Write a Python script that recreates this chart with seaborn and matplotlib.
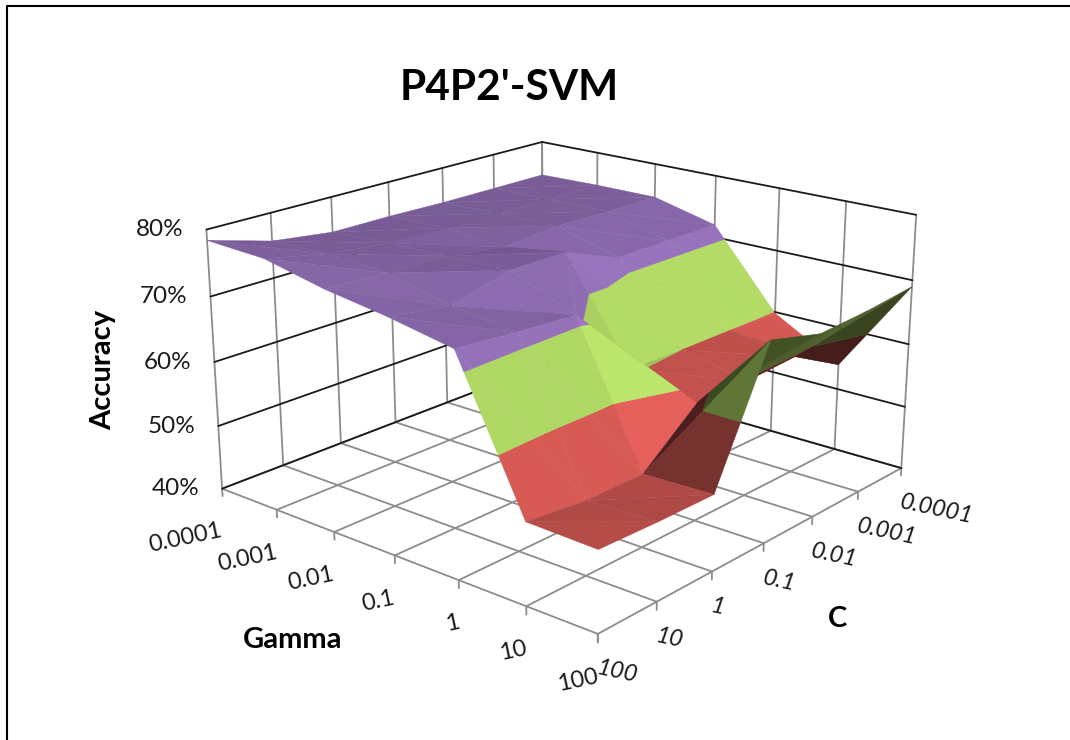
import numpy as np
import matplotlib
matplotlib.use("Agg")
import matplotlib.pyplot as plt
import seaborn as sns
from mpl_toolkits.mplot3d import proj3d
from mpl_toolkits.mplot3d.art3d import Poly3DCollection

sns.set_theme(style="white")
plt.rcParams['font.family'] = ['Lato', 'DejaVu Sans']

gamma_labels = ['0.0001', '0.001', '0.01', '0.1', '1', '10', '100']
c_labels = ['100', '10', '1', '0.1', '0.01', '0.001', '0.0001']
z_ticks = [40, 50, 60, 70, 80]

# accuracy in %, one list per gamma, C running 100 -> 0.0001
acc_g0 = [78.4, 75.7, 74.5, 74.5, 74.3, 74.3, 74.3]
acc_g1 = [78.0, 76.0, 75.0, 74.8, 74.6, 74.5, 74.5]
acc_g2 = [76.0, 75.5, 75.3, 74.0, 74.7, 74.5, 74.5]
acc_g3 = [74.6, 73.2, 75.5, 75.5, 72.0, 72.0, 72.0]
acc_g4 = [72.8, 72.0, 71.4, 60.2, 60.0, 60.0, 59.8]
acc_g5 = [52.0, 51.0, 51.0, 58.0, 58.0, 58.5, 54.0]
acc_g6 = [51.7, 51.4, 51.3, 70.0, 67.8, 68.2, 69.0]
accuracy = np.array([acc_g0, acc_g1, acc_g2, acc_g3, acc_g4, acc_g5, acc_g6])

band_edges = [(40, 50), (50, 60), (60, 70), (70, 80)]
band_colors = sns.color_palette(['#4f81bd', '#d75a55', '#afd764', '#9471b9'])

ELEV, AZIM, ZASPECT = 19.0, -49.5, 0.55
# cells whose crease runs the other way
flipped_cells = [(3, 2)]


def clip_band(tri, lo, hi):
    # cut one triangle down to the part between two z levels
    poly = list(tri)
    for level, sign in ((lo, 1), (hi, -1)):
        out = []
        for a, b in zip(poly, poly[1:] + poly[:1]):
            da, db = sign * (a[2] - level), sign * (b[2] - level)
            if da >= 0:
                out.append(a)
            if da * db < 0:
                out.append(a + (b - a) * da / (da - db))
        poly = out
        if not poly:
            break
    return poly


def shade(tri, color):
    p = tri * np.array([1 / 6, 1 / 6, ZASPECT / 40])
    n = np.cross(p[1] - p[0], p[2] - p[0])
    n = n / np.linalg.norm(n)
    if n[2] < 0:
        n = -n
    f = 0.37 + 0.46 * n[0] + 0.075 * n[1] + 0.46 * n[2]
    f += 0.5 * max(0, -n[1]) * max(0, n[0])
    return tuple(np.clip(np.array(color) * f, 0, 1))


polys, colors = [], []
for i in range(6):
    for j in range(6):
        pts = [np.array([i + a, j + b, accuracy[i + a, j + b]], dtype=float)
               for a, b in ((0, 0), (1, 0), (1, 1), (0, 1))]
        if (i, j) in flipped_cells:
            tris = ([pts[0], pts[1], pts[3]], [pts[1], pts[2], pts[3]])
        else:
            tris = ([pts[0], pts[1], pts[2]], [pts[0], pts[2], pts[3]])
        for tri in tris:
            for (lo, hi), col in zip(band_edges, band_colors):
                part = clip_band(tri, lo, hi)
                if len(part) >= 3:
                    polys.append(part)
                    colors.append(shade(np.array(tri), col))

fig = plt.figure(figsize=(10.7, 7.4), dpi=100)
S = 740
CX, CY = 556, 363
ax = fig.add_axes([(CX - S / 2) / 1070, 1 - (CY + S / 2) / 740, S / 1070, S / 740],
                  projection='3d')
ax.computed_zorder = False
ax.set_proj_type('persp', focal_length=0.5)
ax.view_init(elev=ELEV, azim=AZIM)
ax.set_box_aspect((1, 1, ZASPECT), zoom=0.98)
ax.set_xlim(0, 6)
ax.set_ylim(0, 6)
ax.set_zlim(40, 80)
ax.set_axis_off()

grid = '#8c8c8c'
dark = '#1a1a1a'
for k in range(7):
    ax.plot([k, k], [0, 6], [40, 40], color=grid, lw=1.3, zorder=1)
    ax.plot([0, 6], [k, k], [40, 40], color=grid, lw=1.3, zorder=1)
    ax.plot([k, k], [6, 6], [40, 80], color=grid, lw=1.3, zorder=1)
    ax.plot([0, 0], [k, k], [40, 80], color=grid, lw=1.3, zorder=1)
    ax.plot([k, k], [0, 0], [38.8, 40], color=grid, lw=1.3, zorder=1)
    ax.plot([6, 6], [k, k], [38.8, 40], color=grid, lw=1.3, zorder=1)
for z in z_ticks:
    ax.plot([0, 6], [6, 6], [z, z], color=dark, lw=1.3, zorder=1)
    ax.plot([0, 0], [0, 6], [z, z], color=dark, lw=1.3, zorder=1)

ax.add_collection3d(Poly3DCollection(polys, facecolors=colors, edgecolors=colors,
                                     linewidths=0.3, zsort='average', zorder=2))


def label_at(x, y, z, dx, dy, text, **kw):
    xs, ys, _ = proj3d.proj_transform(x, y, z, ax.get_proj())
    ax.annotate(text, (xs, ys), xytext=(dx, dy), textcoords='offset pixels',
                annotation_clip=False, color='#1a1a1a', rotation_mode='anchor', **kw)


for z in z_ticks:
    label_at(0, 0, z, -47, 0, f'{z}%', fontsize=17.5, ha='center', va='center')
for i, lab in enumerate(gamma_labels):
    label_at(i, 0, 40, 0, -42, lab, fontsize=17, rotation=12, ha='right', va='center')
for j, lab in enumerate(c_labels):
    label_at(6, j, 40, -1, -34, lab, fontsize=17, rotation=-12, style='italic',
             ha='left', va='center')

fig.text(103 / 1070, 1 - 370 / 740, 'Accuracy', fontsize=21, fontweight='bold', rotation=90,
         ha='center', va='center', color='black')
fig.text(293 / 1070, 1 - 640 / 740, 'Gamma', fontsize=21, fontweight='bold',
         ha='center', va='center', color='black')
fig.text(837 / 1070, 1 - 619 / 740, 'C', fontsize=21, fontweight='bold',
         ha='center', va='center', color='black')
fig.text(509 / 1070, 1 - 88 / 740, "P4P2'-SVM", fontsize=30.5, fontweight='bold',
         ha='center', va='center', color='black')

# frame of the original image
fig.add_artist(plt.Line2D([7 / 1070, 7 / 1070, 1], [0, 1 - 6 / 740, 1 - 6 / 740],
                          color='black', lw=1.5))

fig.savefig('out.png', dpi=100)
